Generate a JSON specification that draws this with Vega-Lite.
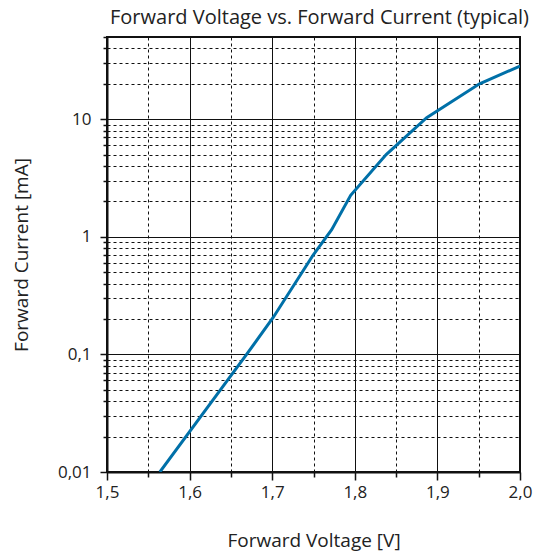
{
  "$schema": "https://vega.github.io/schema/vega-lite/v6.json",
  "width": 413,
  "height": 435,
  "autosize": {"type": "none"},
  "padding": {"left": 107, "top": 37, "right": 15, "bottom": 83},
  "background": "white",
  "title": {
    "text": "Forward Voltage vs. Forward Current (typical)",
    "font": "Open Sans",
    "fontSize": 20,
    "fontWeight": "normal",
    "color": "#222222",
    "anchor": "middle",
    "offset": 0,
    "dx": 6
  },
  "config": {
    "view": {"stroke": "#111111", "strokeWidth": 2},
    "axis": {
      "labelFont": "Open Sans",
      "titleFont": "Open Sans",
      "labelFontSize": 17,
      "titleFontSize": 19,
      "titleFontWeight": "normal",
      "labelColor": "#222222",
      "titleColor": "#222222",
      "domainColor": "#111111",
      "domainWidth": 2,
      "tickColor": "#111111",
      "tickWidth": 1.5,
      "labelOverlap": false,
      "labelFlush": false
    }
  },
  "data": {
    "values": [
      {"v": 1.564, "i": 0.01},
      {"v": 1.669, "i": 0.1},
      {"v": 1.701, "i": 0.205},
      {"v": 1.75, "i": 0.707},
      {"v": 1.772, "i": 1.15},
      {"v": 1.795, "i": 2.25},
      {"v": 1.838, "i": 5.0},
      {"v": 1.887, "i": 10.3},
      {"v": 1.951, "i": 20.0},
      {"v": 2.0, "i": 28.3}
    ]
  },
  "mark": {"type": "line", "color": "#0070A8", "strokeWidth": 3, "clip": true},
  "encoding": {
    "x": {
      "field": "v",
      "type": "quantitative",
      "scale": {"domain": [1.5, 2.0], "nice": false, "zero": false},
      "axis": {
        "title": "Forward Voltage [V]",
        "values": [1.5, 1.55, 1.6, 1.65, 1.7, 1.75, 1.8, 1.85, 1.9, 1.95, 2.0],
        "labelExpr": "abs(datum.value*10 - round(datum.value*10)) < 1e-6 ? replace(format(datum.value, '.1f'), '.', ',') : ''",
        "grid": true,
        "gridColor": "#111111",
        "gridWidth": 1,
        "gridDash": {"condition": {"test": "abs(datum.value*10 - round(datum.value*10)) < 1e-6", "value": []}, "value": [3, 3]},
        "tickSize": {"condition": {"test": "abs(datum.value*10 - round(datum.value*10)) < 1e-6", "value": 8}, "value": 5},
        "labelPadding": 4,
        "titlePadding": 31
      }
    },
    "y": {
      "field": "i",
      "type": "quantitative",
      "scale": {"type": "log", "domain": [0.01, 50], "nice": false},
      "axis": {
        "title": "Forward Current [mA]",
        "values": [0.01, 0.02, 0.03, 0.04, 0.05, 0.06, 0.07, 0.08, 0.09, 0.1, 0.2, 0.3, 0.4, 0.5, 0.6, 0.7, 0.8, 0.9, 1, 2, 3, 4, 5, 6, 7, 8, 9, 10, 20, 30, 40, 50],
        "labelExpr": "abs(log(datum.value)/LN10 - round(log(datum.value)/LN10)) < 1e-6 ? replace(toString(datum.value), '.', ',') : ''",
        "grid": true,
        "gridColor": "#111111",
        "gridWidth": 1,
        "gridDash": {"condition": {"test": "abs(log(datum.value)/LN10 - round(log(datum.value)/LN10)) < 1e-6", "value": []}, "value": [3, 3]},
        "tickSize": {"condition": {"test": "abs(log(datum.value)/LN10 - round(log(datum.value)/LN10)) < 1e-6", "value": 7}, "value": 4},
        "labelPadding": 9,
        "titlePadding": 26
      }
    }
  }
}
